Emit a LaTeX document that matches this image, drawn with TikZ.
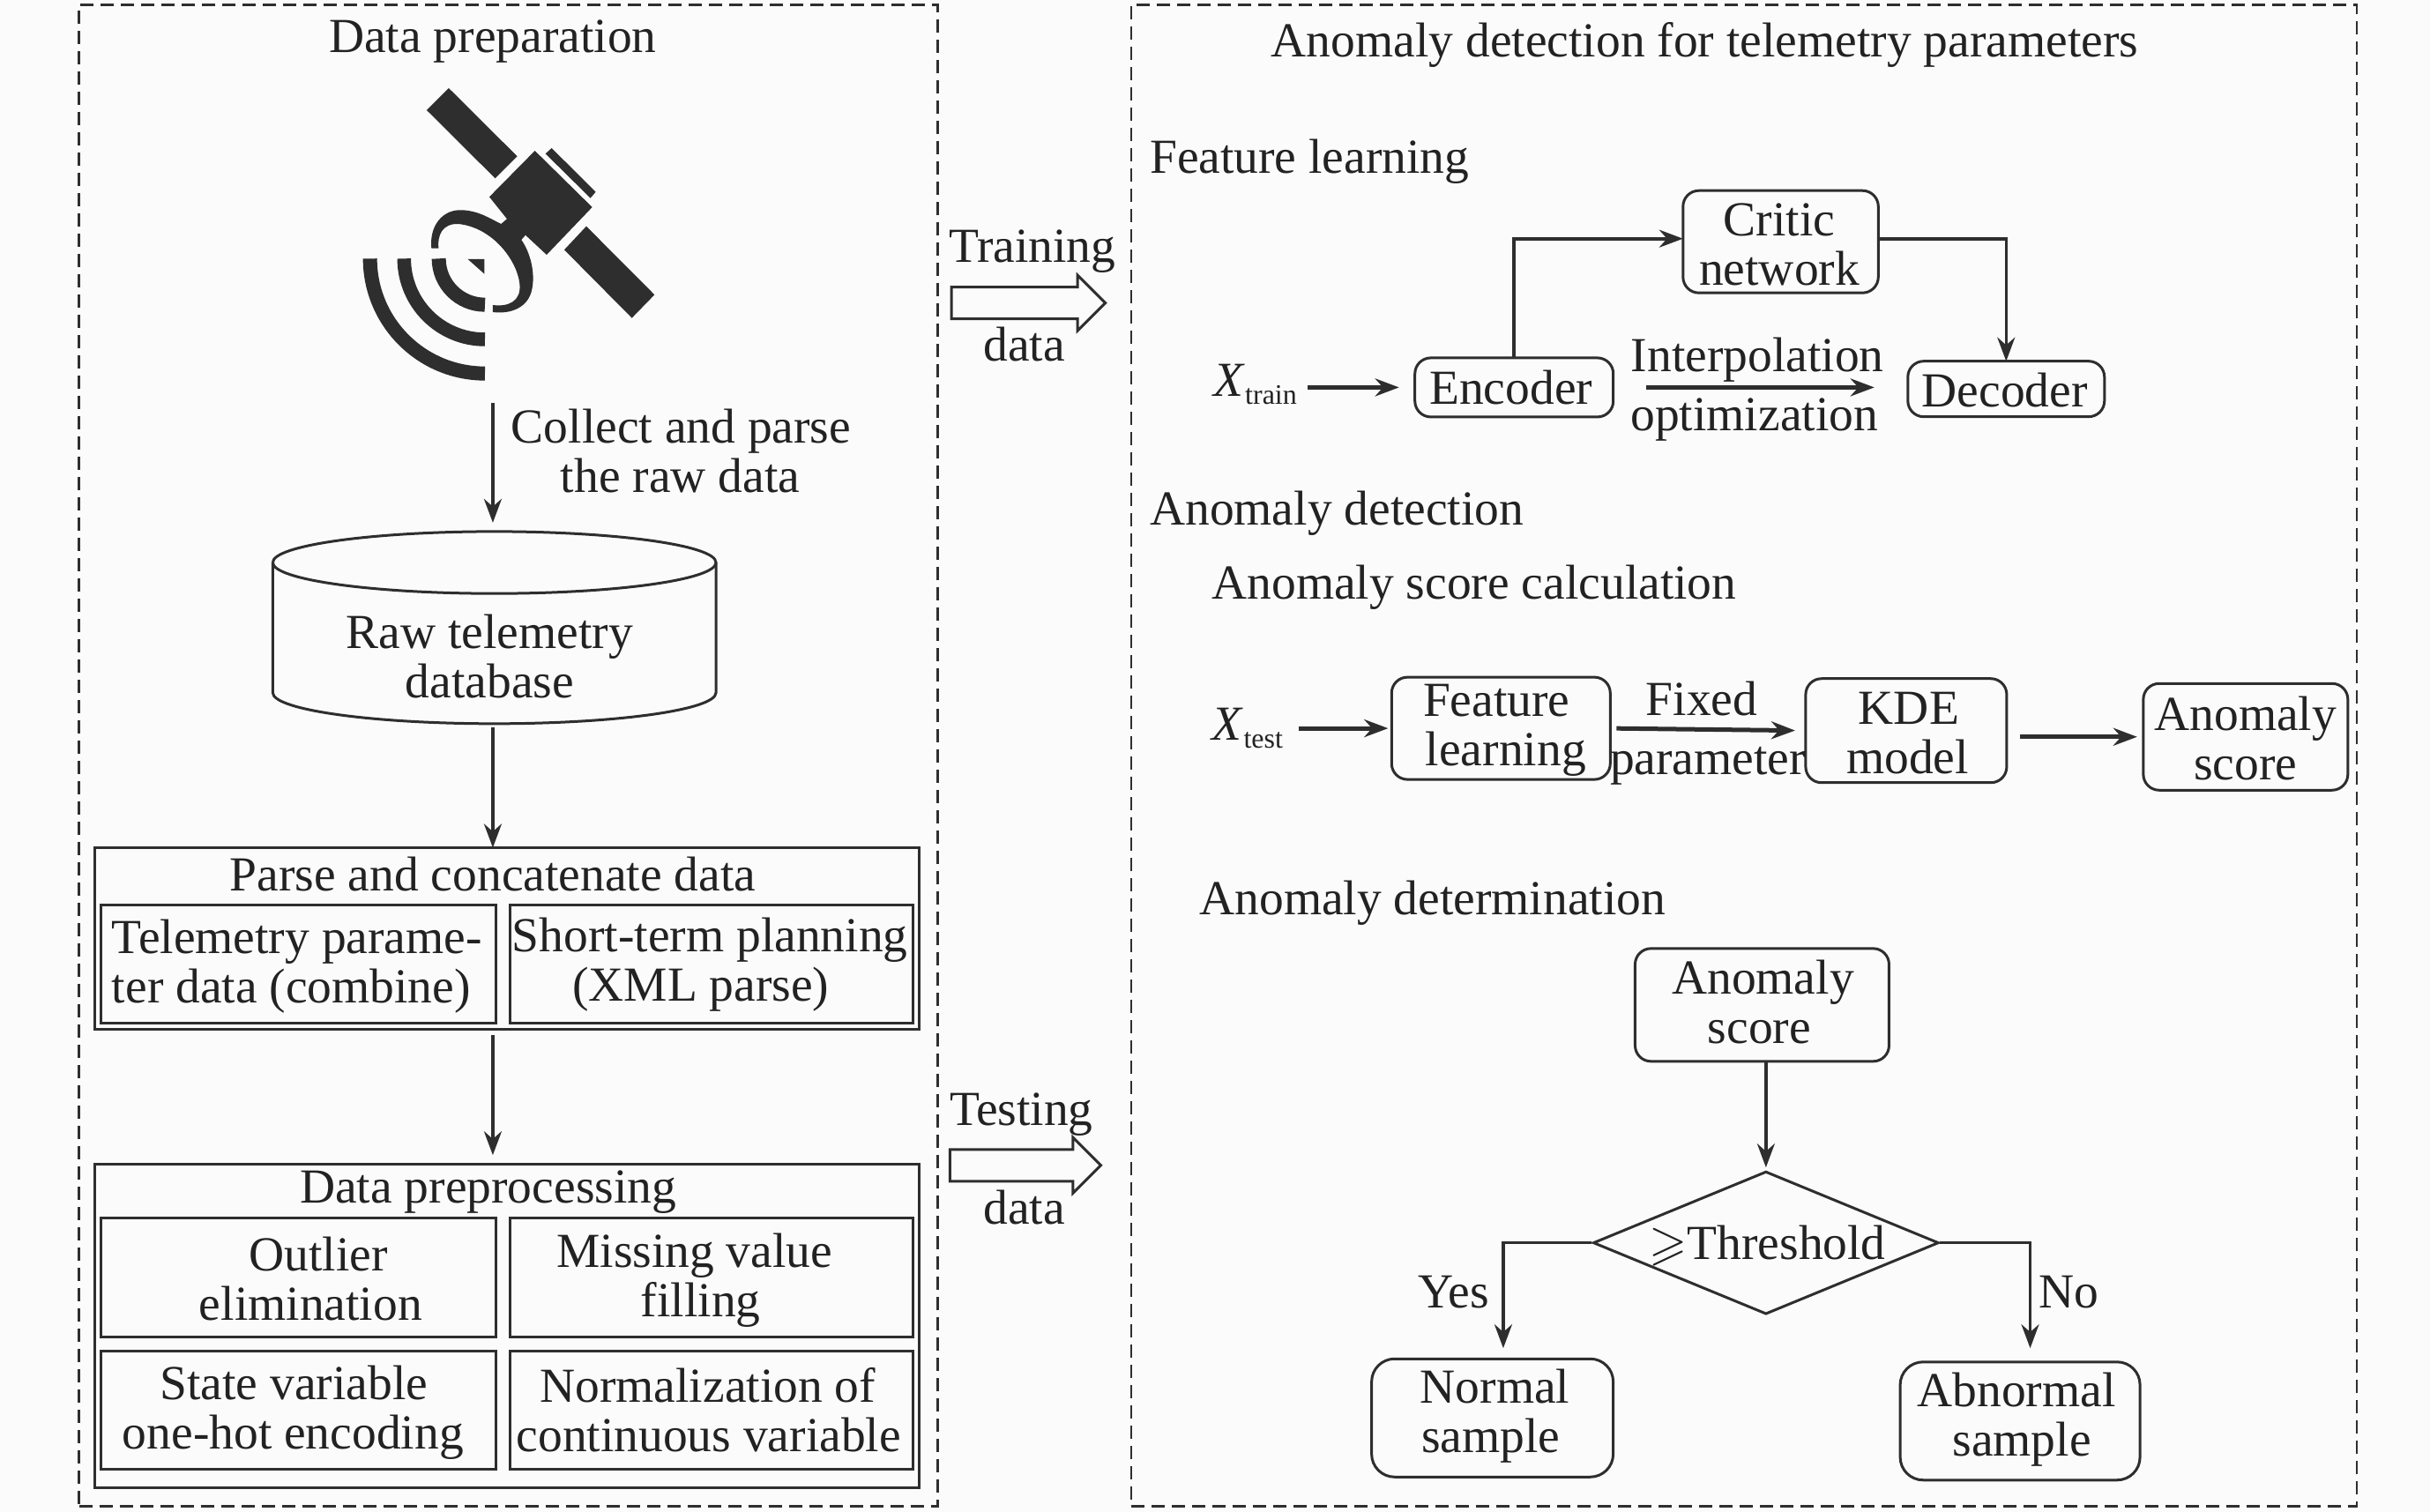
\documentclass[tikz,border=0pt]{standalone}
\usepackage{amssymb}
\usepackage{fontspec}
\setmainfont{Liberation Serif}
\usetikzlibrary{arrows.meta,shapes.geometric,shapes.arrows}
\definecolor{ink}{HTML}{222222}
\definecolor{ln}{HTML}{2E2E2E}
\definecolor{paper}{HTML}{FBFBFB}
\newcommand\sh[1]{\hspace*{#1pt}}
\newcommand\dn[1]{\rule{0pt}{#1pt}}
\newcommand\up[1]{\rule[-#1pt]{0pt}{0pt}}
\newcommand\txsub[2]{\textit{#1}\raisebox{-9pt}{\fontsize{32}{32}\selectfont #2}}
\tikzset{
  txt/.style={inner sep=0pt,outer sep=0pt,align=center,text=ink,font=\fontsize{55.5}{56}\selectfont},
  headtxt/.style={txt,anchor=west},
  panel/.style={draw=ln,line width=2.4pt,dash pattern=on 15pt off 8pt},
  sqbox/.style={txt,draw=ln,line width=3pt},
  rbox/.style={txt,draw=ln,line width=3pt,rounded corners=18pt},
  rboxb/.style={txt,draw=ln,line width=3pt,rounded corners=26pt},
  conn/.style={draw=ln,line width=3.6pt,-{Stealth[length=27pt,width=20pt]}},
  hconn/.style={conn,line width=5pt},
  hollow/.style={draw=ln,line width=3pt,fill=paper,shape=single arrow,single arrow head extend=13.5pt,single arrow tip angle=90,single arrow head indent=0pt,inner xsep=0pt,inner ysep=16.5pt,minimum height=174.5pt},
  sat/.style={fill=ln,draw=none},
}
\begin{document}
\begin{tikzpicture}[x=1.7577pt,y=-1.7577pt]
\path[use as bounding box,fill=paper] (0,0) rectangle (1568,975.7);
% panels
\node[panel,minimum width=973.8pt,minimum height=1703pt] (left) at (328,487.5) {};
\node[panel,minimum width=1390pt,minimum height=1703pt] (right) at (1125.5,487.5) {};
\node[txt] (t1) at (318,27) {Data preparation};
\node[txt] (t2) at (1100,29) {Anomaly detection for telemetry parameters};
% satellite
\begin{scope}[shift={(360pt,-70pt)},x=0.33333pt,y=-0.33333pt]
\fill[sat] (447,90)--(680,322)--(605,397)--(372,165)--cycle;
\fill[sat] (915,560)--(1147,793)--(1070,872)--(840,640)--cycle;
\fill[sat] (797,294)--(947,443)--(929,464)--(776,313)--cycle;
\fill[sat] (740,303)--(935,495)--(780,657)--(708,590)--(694,606)
  .. controls (725,650) and (742,720) .. (730,775)
  .. controls (718,835) and (660,860) .. (597,852)
  --(597,828)
  .. controls (650,835) and (695,815) .. (688,755)
  .. controls (680,680) and (600,565) .. (480,552)
  .. controls (425,550) and (408,590) .. (412,635)
  --(388,635)
  .. controls (380,560) and (425,500) .. (495,505)
  .. controls (550,508) and (590,535) .. (625,552)
  --(645,535)--(585,460)--cycle;
\fill[sat] (512,672)--(568,672)--(568,722)--cycle;
\draw[ln,line width=16pt] (413,670) arc[start angle=180,end angle=90,radius=157];
\draw[ln,line width=15.5pt] (295,670) arc[start angle=180,end angle=90,radius=275];
\draw[ln,line width=16pt] (179,670) arc[start angle=180,end angle=90,radius=391];
\end{scope}
% left column
\coordinate (sat1) at (318,260);
\coordinate (dbtop) at (318,343);
\node[txt] (collect) at (439.5,291) {Collect and parse\\\sh{-2}the raw data};
\node[txt,minimum width=502pt,minimum height=151pt] (db) at (316,423.5) {Raw telemetry\\database};
\draw[ln,line width=3pt] (176,363) arc[start angle=180,end angle=540,x radius=143,y radius=20];
\draw[ln,line width=3pt] (176,363) -- (176,447) arc[start angle=180,end angle=0,x radius=143,y radius=20] -- (462,363);
\draw[conn,shorten >=10pt] (sat1) -- (dbtop);
\node[sqbox,minimum width=935pt,minimum height=205.6pt] (g1) at (327,605.5) {};
\node[txt] (g1t) at (318,564) {Parse and concatenate data};
\node[sqbox,minimum width=448pt,minimum height=133.6pt] (a1) at (192.5,622) {\dn{44}\sh{-3}Telemetry parame-\\\sh{-16}ter data (combine)};
\node[sqbox,minimum width=457pt,minimum height=133.6pt] (a2) at (459,622) {\dn{41}\sh{-3}Short-term planning\\\sh{-24}(XML parse)};
\draw[conn,shorten <=5pt] (db.south -| sat1) -- (g1.north -| sat1);
\node[sqbox,minimum width=935pt,minimum height=367pt] (g2) at (327,855.5) {};
\node[txt] (g2t) at (315,769) {Data preprocessing};
\node[sqbox,minimum width=448pt,minimum height=135pt] (b1) at (192.5,824.5) {\dn{41}\sh{46}Outlier\\\sh{28}elimination};
\node[sqbox,minimum width=457pt,minimum height=135pt] (b2) at (459,824.5) {\dn{45}\sh{-38}Missing value\\\sh{-24}filling};
\node[sqbox,minimum width=448pt,minimum height=133.6pt] (b3) at (192.5,910) {\dn{45}\sh{-10}State variable\\\sh{-12}one-hot encoding};
\node[sqbox,minimum width=457pt,minimum height=133.6pt] (b4) at (459,910) {\sh{-8}Normalization of\\\sh{-6}continuous variable};
\draw[conn,shorten <=7pt,shorten >=10pt] (g1.south -| sat1) -- (g2.north -| sat1);
% transfer arrows
\node[hollow] (arrTrain) at (658.5,195.5) {};
\node[txt] (trn) at (666,162) {Training};
\node[txt] (trd) at (661,222) {data};
\node[hollow,minimum height=171pt] (arrTest) at (656.5,752) {};
\node[txt] (tst) at (659,719) {Testing};
\node[txt] (tsd) at (661,779) {data};
% feature learning
\node[headtxt] (h1) at (742,104) {Feature learning};
\node[rbox,minimum width=221.5pt,minimum height=116pt] (crit) at (1149,156) {\dn{43}\sh{-3}Critic\\\sh{-3}network};
\node[rbox,minimum width=225pt,minimum height=67pt] (enc) at (977,250) {\sh{-7}Encoder};
\node[rbox,minimum width=223pt,minimum height=63pt] (dec) at (1294.5,251) {\dn{41}\sh{-3}Decoder};
\node[txt] (xtr) at (810,248) {\txsub{X}{train}};
\node[txt] (int) at (1134,232) {Interpolation};
\node[txt] (opt) at (1132,271) {optimization};
\draw[hconn,shorten <=12pt,shorten >=18pt] (xtr.east |- enc) -- (enc.west);
\draw[conn] (enc.north) |- ([yshift=3.5pt]crit.west);
\draw[conn] ([yshift=3.5pt]crit.east) -| (dec.north);
\draw[hconn,shorten <=37pt,shorten >=38pt] (enc.east) -- (enc.east -| dec.west);
% anomaly score
\node[headtxt] (h2) at (742,331) {Anomaly detection};
\node[headtxt] (h3) at (782,379) {Anomaly score calculation};
\node[txt] (xts) at (805,470) {\txsub{X}{test}};
\node[rbox,minimum width=248pt,minimum height=116pt] (fl) at (968.5,470) {\dn{41}\sh{-10}Feature\\\sh{11}learning};
\node[rbox,minimum width=228pt,minimum height=118pt] (kde) at (1230,471.5) {\dn{43}\sh{6}KDE\\\sh{3}model};
\node[rbox,minimum width=232pt,minimum height=121pt] (sc1) at (1449,475.5) {\dn{41}Anomaly\\score};
\node[txt] (fix) at (1098,451) {Fixed};
\node[txt] (par) at (1102,494) {parameter};
\draw[hconn,shorten <=18pt,shorten >=4pt] (xts.east |- fl) -- (fl.west);
\draw[hconn,shorten <=7pt,shorten >=12pt] (fl.east) -- (kde.west);
\draw[hconn,shorten <=15pt,shorten >=7pt] (kde.east |- sc1) -- (sc1.west);
% determination
\node[headtxt] (h4) at (774,583) {Anomaly determination};
\node[rbox,minimum width=288pt,minimum height=128pt] (sc2) at (1137,648.5) {\sh{2}Anomaly\\\sh{-6}score\up{8}};
\node[draw=ln,line width=3pt,diamond,aspect=2.42,inner sep=0pt,minimum width=392pt,minimum height=162pt] (dia) at (1139.5,802) {};
\node[txt] (thr) at (1140.5,804) {$\geqslant$Threshold};
\node[rboxb,minimum width=274pt,minimum height=134pt] (norm) at (963,915) {\sh{6}Normal\\\sh{-4}sample\up{15.5}};
\node[rboxb,minimum width=272pt,minimum height=134pt] (abn) at (1303.5,917) {\sh{-8}Abnormal\\\sh{4}sample\up{15.5}};
\coordinate (yesd) at (970,870);
\coordinate (nod) at (1310,870);
\node[txt] (yes) at (938,834) {Yes};
\node[txt] (no) at (1335,834) {No};
\draw[conn,shorten >=3pt] (sc2.south -| dia.north) -- (dia.north);
\draw[conn] (dia.west) -| (yesd);
\draw[conn] (dia.east) -| (nod);
\end{tikzpicture}
\end{document}
